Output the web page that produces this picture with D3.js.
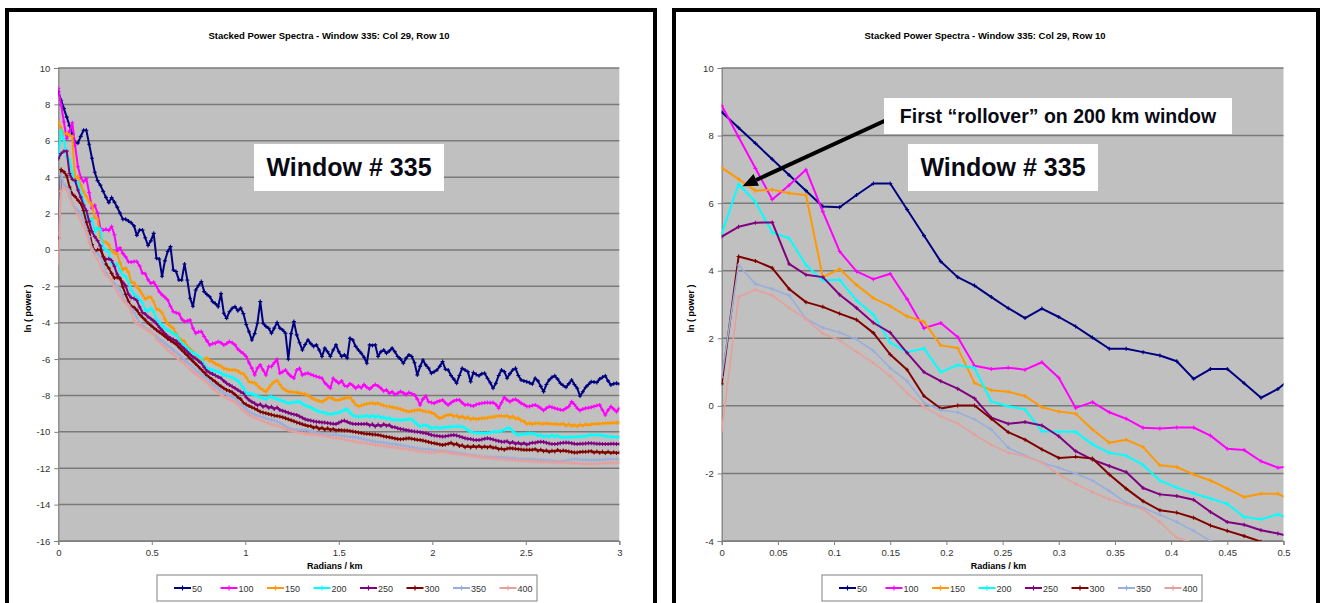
<!DOCTYPE html>
<html>
<head>
<meta charset="utf-8">
<script src="https://cdn.jsdelivr.net/npm/d3@7"></script>
<style>
  body { margin: 0; background: #fff; }
  svg { display: block; }
  text { font-family: "Liberation Sans", Arial, sans-serif; }
</style>
</head>
<body>
<svg id="chart" width="1324" height="603"></svg>
<script>
// Wavenumber spacing of the stacked spectra (radians / km)
const STEP = 0.015;

const seriesNames = ["50", "100", "150", "200", "250", "300", "350", "400"];
const seriesColors = ["#000080", "#FF00FF", "#FF9900", "#00FFFF", "#800080", "#800000", "#99AEDD", "#E6A09C"];

const leftXTicks = [0, 0.5, 1, 1.5, 2, 2.5, 3];
const leftYTicks = [10, 8, 6, 4, 2, 0, -2, -4, -6, -8, -10, -12, -14, -16];
const rightXTicks = [0, 0.05, 0.1, 0.15, 0.2, 0.25, 0.3, 0.35, 0.4, 0.45, 0.5];
const rightYTicks = [10, 8, 6, 4, 2, 0, -2, -4];

const chartTitle = "Stacked Power Spectra - Window 335: Col 29, Row 10";
const xTitle = "Radians / km";
const yTitle = "ln ( power )";
const windowLabel = "Window # 335";
const noteLabel = "First \u201Crollover\u201D on 200 km window";

// ln(power) per window size, one value per wavenumber step
const s50 = [
  8.70, 8.23, 7.77, 7.30, 6.83, 6.37, 5.90, 5.88, 6.24, 6.58,
  6.58, 5.81, 5.04, 4.27, 3.81, 3.56, 3.22, 2.89, 2.60, 2.88,
  2.63, 2.35, 2.02, 1.69, 1.69, 1.59, 1.49, 1.32, 0.80, 1.09,
  1.09, 0.67, 0.24, 0.50, 0.91, -0.46, -0.50, -1.45, -0.60, -0.09,
  0.18, -1.10, -1.19, -1.65, -1.65, -0.77, -1.65, -2.66, -3.10, -2.20,
  -1.95, -1.74, -2.29, -2.45, -2.57, -2.84, -2.95, -3.12, -2.40, -3.48,
  -3.76, -3.40, -3.21, -3.12, -3.34, -3.20, -3.50, -4.10, -4.50, -4.95,
  -4.60, -4.03, -2.84, -4.03, -4.20, -4.31, -4.58, -4.30, -3.99, -4.30,
  -4.40, -4.58, -6.01, -4.60, -3.94, -4.67, -5.10, -5.50, -5.20, -4.95,
  -5.15, -5.31, -5.22, -5.50, -5.86, -5.40, -5.60, -5.86, -5.50, -5.22,
  -5.60, -5.86, -5.77, -5.95, -4.86, -4.95, -5.30, -5.50, -5.68, -5.90,
  -6.23, -5.22, -5.25, -5.22, -5.86, -5.60, -5.50, -5.68, -5.55, -5.40,
  -5.60, -5.86, -6.00, -6.23, -5.95, -5.77, -5.86, -6.20, -6.87, -6.40,
  -6.05, -6.32, -6.50, -6.78, -6.69, -6.60, -6.40, -6.14, -6.56, -6.60,
  -6.90, -7.10, -7.33, -6.90, -6.51, -6.60, -6.69, -7.24, -6.74, -6.85,
  -6.92, -6.80, -6.78, -7.05, -7.30, -7.60, -7.33, -6.90, -6.60, -6.69,
  -7.05, -6.80, -6.60, -6.51, -6.90, -7.15, -7.20, -7.24, -7.30, -7.37,
  -7.05, -7.20, -7.50, -7.79, -7.40, -7.15, -7.00, -6.92, -7.10, -7.33,
  -7.45, -7.55, -7.35, -7.15, -7.40, -7.60, -8.03, -7.80, -7.55, -7.40,
  -7.24, -7.26, -7.29, -7.10, -7.00, -6.92, -7.20, -7.42, -7.35, -7.33,
  -7.37
];
const s100 = [
  8.89, 7.96, 7.03, 6.11, 6.53, 6.99, 5.75, 4.57, 3.98, 3.75,
  3.91, 3.16, 2.30, 2.45, 2.04, 1.19, 1.09, 1.13, 1.07, 1.29,
  0.83, -0.06, 0.11, -0.19, -0.38, -0.65, -0.67, -0.64, -0.64, -0.88,
  -1.27, -1.31, -1.64, -1.83, -1.78, -2.00, -2.30, -2.47, -2.60, -2.75,
  -3.10, -3.39, -3.45, -3.50, -3.80, -3.94, -3.90, -3.85, -4.30, -4.58,
  -4.50, -4.49, -4.76, -5.00, -5.22, -5.15, -5.13, -5.04, -5.10, -5.22,
  -5.15, -5.04, -5.10, -5.22, -5.45, -5.59, -5.70, -5.86, -6.20, -6.50,
  -6.87, -6.50, -6.32, -6.60, -6.87, -6.41, -6.41, -6.20, -6.01, -6.78,
  -6.70, -6.60, -6.80, -6.95, -7.05, -6.60, -6.51, -6.87, -6.80, -6.78,
  -6.85, -6.90, -6.96, -7.00, -7.05, -7.30, -7.45, -7.60, -7.05, -7.20,
  -7.33, -7.20, -7.45, -7.51, -7.35, -7.45, -7.60, -7.48, -7.58, -7.40,
  -7.55, -7.65, -7.51, -7.40, -7.48, -7.60, -7.75, -7.70, -7.88, -7.80,
  -7.95, -7.88, -7.78, -7.86, -7.95, -7.84, -7.90, -7.97, -8.20, -8.52,
  -8.20, -8.03, -8.34, -8.39, -8.43, -8.34, -8.30, -8.25, -8.40, -8.52,
  -8.40, -8.30, -8.25, -8.25, -8.40, -8.52, -8.50, -8.55, -8.58, -8.50,
  -8.45, -8.43, -8.40, -8.39, -8.40, -8.39, -8.50, -8.70, -8.40, -8.10,
  -8.25, -8.34, -8.25, -8.21, -8.30, -8.43, -8.50, -8.60, -8.61, -8.55,
  -8.52, -8.60, -8.70, -8.83, -8.70, -8.61, -8.65, -8.70, -8.75, -8.78,
  -8.80, -8.70, -8.61, -8.34, -8.50, -8.70, -8.83, -8.75, -8.70, -8.68,
  -8.65, -8.60, -8.55, -8.52, -8.80, -9.07, -8.80, -8.61, -8.75, -8.89,
  -8.70
];
const s150 = [
  7.05, 6.71, 6.37, 6.40, 6.29, 6.24, 3.81, 4.05, 3.58, 3.19,
  2.95, 2.65, 2.49, 1.79, 1.71, 0.68, 0.46, 0.42, 0.29, -0.04,
  -0.17, -0.23, -0.70, -1.09, -1.00, -1.22, -1.76, -1.81, -2.03, -2.21,
  -2.45, -2.70, -2.60, -2.60, -2.85, -3.25, -3.30, -3.45, -3.80, -4.05,
  -4.20, -4.31, -4.60, -4.86, -4.95, -5.04, -5.30, -5.45, -5.60, -5.77,
  -5.90, -6.05, -6.00, -5.95, -6.10, -6.14, -6.25, -6.32, -6.40, -6.51,
  -6.55, -6.60, -6.58, -6.60, -6.65, -6.78, -6.80, -7.00, -7.24, -7.29,
  -7.30, -7.45, -7.60, -7.70, -7.79, -7.60, -7.40, -7.25, -7.18, -7.40,
  -7.60, -7.70, -7.79, -7.80, -7.82, -7.84, -7.86, -7.90, -7.92, -8.00,
  -8.10, -8.20, -8.25, -8.30, -8.34, -8.25, -8.15, -8.10, -8.20, -8.25,
  -8.25, -8.20, -8.15, -8.12, -8.10, -8.30, -8.50, -8.61, -8.55, -8.50,
  -8.45, -8.43, -8.43, -8.45, -8.43, -8.50, -8.55, -8.60, -8.61, -8.65,
  -8.68, -8.70, -8.75, -8.80, -8.85, -8.89, -8.85, -8.82, -8.80, -8.80,
  -8.85, -8.88, -8.89, -8.95, -9.00, -9.15, -9.25, -9.20, -9.10, -9.07,
  -9.05, -9.15, -9.10, -9.22, -9.14, -9.25, -9.20, -9.32, -9.25, -9.31,
  -9.28, -9.25, -9.25, -9.22, -9.20, -9.18, -9.15, -9.13, -9.13, -9.15,
  -9.12, -9.22, -9.15, -9.28, -9.25, -9.38, -9.42, -9.57, -9.52, -9.58,
  -9.53, -9.53, -9.55, -9.55, -9.53, -9.55, -9.57, -9.57, -9.58, -9.60,
  -9.55, -9.66, -9.58, -9.68, -9.62, -9.70, -9.60, -9.66, -9.58, -9.63,
  -9.58, -9.57, -9.56, -9.55, -9.54, -9.53, -9.53, -9.52, -9.50, -9.50,
  -9.49
];
const s200 = [
  5.09, 6.56, 6.04, 5.13, 4.96, 4.17, 3.71, 3.73, 3.12, 2.70,
  1.87, 1.59, 1.70, 1.00, 1.21, 1.12, 0.13, -0.01, -0.11, -0.75,
  -0.77, -0.77, -1.14, -1.39, -1.47, -1.75, -2.21, -2.42, -2.59, -2.74,
  -2.90, -3.29, -3.36, -3.21, -3.40, -3.80, -4.00, -4.15, -4.30, -4.40,
  -4.50, -4.60, -4.67, -4.90, -5.13, -5.25, -5.40, -5.55, -5.65, -5.75,
  -5.85, -5.95, -6.30, -6.51, -6.55, -6.60, -6.65, -6.69, -6.78, -6.87,
  -6.90, -6.96, -7.00, -7.10, -7.20, -7.37, -7.60, -7.85, -7.88, -7.92,
  -7.97, -8.05, -8.10, -8.15, -8.21, -8.10, -8.06, -8.15, -8.20, -8.25,
  -8.30, -8.38, -8.43, -8.40, -8.37, -8.34, -8.34, -8.45, -8.55, -8.60,
  -8.65, -8.75, -8.82, -8.89, -8.92, -8.95, -9.00, -9.02, -9.00, -8.96,
  -8.94, -8.88, -8.80, -8.76, -8.95, -9.10, -9.16, -9.16, -9.16, -9.15,
  -9.10, -9.18, -9.10, -9.20, -9.12, -9.22, -9.18, -9.28, -9.24, -9.33,
  -9.33, -9.34, -9.35, -9.35, -9.33, -9.31, -9.31, -9.45, -9.60, -9.71,
  -9.65, -9.62, -9.70, -9.80, -9.78, -9.75, -9.80, -9.78, -9.75, -9.73,
  -9.72, -9.71, -9.71, -9.71, -9.71, -9.80, -9.90, -10.00, -10.04, -10.05,
  -10.06, -10.07, -10.08, -10.06, -10.03, -10.00, -9.99, -9.99, -9.95, -9.88,
  -9.80, -9.80, -9.95, -10.10, -10.17, -10.15, -10.12, -10.10, -10.08, -10.10,
  -10.12, -10.22, -10.18, -10.28, -10.22, -10.27, -10.18, -10.26, -10.20, -10.30,
  -10.30, -10.30, -10.30, -10.29, -10.28, -10.27, -10.26, -10.25, -10.23, -10.20,
  -10.18, -10.17, -10.17, -10.17, -10.20, -10.23, -10.26, -10.27, -10.28, -10.29,
  -10.30
];
const s250 = [
  5.01, 5.30, 5.42, 5.43, 4.20, 3.88, 3.81, 3.29, 2.90, 2.46,
  2.17, 1.57, 1.00, 0.73, 0.51, 0.22, -0.35, -0.53, -0.48, -0.58,
  -0.90, -1.34, -1.59, -1.78, -1.96, -2.43, -2.62, -2.67, -2.78, -3.14,
  -3.44, -3.52, -3.68, -3.78, -3.90, -4.05, -4.25, -4.42, -4.60, -4.75,
  -4.85, -4.92, -5.00, -5.15, -5.31, -5.45, -5.60, -5.75, -5.88, -5.97,
  -6.10, -6.23, -6.45, -6.65, -6.75, -6.82, -6.90, -6.98, -7.05, -7.20,
  -7.33, -7.42, -7.51, -7.60, -7.70, -7.80, -7.88, -8.10, -8.25, -8.35,
  -8.43, -8.55, -8.48, -8.62, -8.55, -8.68, -8.62, -8.74, -8.66, -8.80,
  -8.84, -8.89, -8.95, -9.00, -9.04, -9.07, -9.15, -9.22, -9.31, -9.35,
  -9.38, -9.42, -9.44, -9.46, -9.48, -9.49, -9.52, -9.54, -9.56, -9.57,
  -9.50, -9.42, -9.38, -9.45, -9.52, -9.56, -9.57, -9.57, -9.57, -9.57,
  -9.55, -9.65, -9.58, -9.70, -9.60, -9.68, -9.58, -9.66, -9.62, -9.74,
  -9.75, -9.80, -9.84, -9.87, -9.90, -9.93, -9.96, -9.98, -9.99, -10.02,
  -10.05, -10.08, -10.12, -10.17, -10.20, -10.22, -10.24, -10.26, -10.24, -10.21,
  -10.19, -10.17, -10.20, -10.25, -10.30, -10.35, -10.38, -10.40, -10.43, -10.45,
  -10.45, -10.42, -10.38, -10.35, -10.38, -10.42, -10.47, -10.50, -10.54, -10.54,
  -10.52, -10.62, -10.56, -10.66, -10.60, -10.68, -10.62, -10.70, -10.64, -10.60,
  -10.60, -10.56, -10.54, -10.56, -10.60, -10.64, -10.67, -10.67, -10.65, -10.62,
  -10.60, -10.59, -10.60, -10.63, -10.66, -10.67, -10.66, -10.65, -10.64, -10.63,
  -10.63, -10.64, -10.65, -10.66, -10.67, -10.67, -10.67, -10.66, -10.66, -10.67,
  -10.67
];
const s300 = [
  0.65, 4.42, 4.29, 4.08, 3.46, 3.07, 2.93, 2.73, 2.55, 2.16,
  1.52, 1.07, 0.29, -0.08, 0.01, 0.01, -0.38, -0.78, -1.00, -1.29,
  -1.54, -1.51, -1.56, -2.03, -2.45, -2.82, -3.09, -3.16, -3.31, -3.54,
  -3.70, -3.85, -4.02, -4.15, -4.28, -4.40, -4.52, -4.62, -4.75, -4.88,
  -4.98, -5.08, -5.18, -5.35, -5.50, -5.65, -5.80, -5.97, -6.12, -6.27,
  -6.42, -6.58, -6.74, -6.90, -7.02, -7.14, -7.25, -7.38, -7.50, -7.60,
  -7.70, -7.75, -7.82, -7.95, -8.10, -8.20, -8.40, -8.50, -8.58, -8.65,
  -8.72, -8.80, -8.89, -8.94, -8.98, -9.02, -9.06, -9.10, -9.13, -9.16,
  -9.20, -9.25, -9.31, -9.36, -9.42, -9.48, -9.53, -9.58, -9.63, -9.68,
  -9.68, -9.78, -9.72, -9.84, -9.78, -9.88, -9.80, -9.90, -9.84, -9.92,
  -9.90, -9.91, -9.92, -9.93, -9.95, -9.98, -10.01, -10.04, -10.06, -10.09,
  -10.11, -10.12, -10.14, -10.15, -10.17, -10.20, -10.24, -10.27, -10.30, -10.33,
  -10.36, -10.39, -10.41, -10.39, -10.37, -10.35, -10.38, -10.41, -10.44, -10.45,
  -10.48, -10.52, -10.56, -10.60, -10.63, -10.66, -10.69, -10.72, -10.69, -10.66,
  -10.60, -10.70, -10.66, -10.78, -10.74, -10.84, -10.78, -10.86, -10.78, -10.84,
  -10.78, -10.86, -10.80, -10.86, -10.80, -10.88, -10.86, -10.95, -10.92, -10.98,
  -10.92, -10.90, -10.91, -10.93, -10.95, -10.97, -10.99, -10.99, -10.99, -10.99,
  -10.95, -11.04, -10.98, -11.07, -11.02, -11.10, -11.04, -11.08, -11.00, -11.06,
  -11.03, -11.05, -11.08, -11.11, -11.14, -11.13, -11.11, -11.10, -11.09, -11.08,
  -11.06, -11.14, -11.08, -11.15, -11.10, -11.16, -11.10, -11.16, -11.12, -11.16,
  -11.14
];
const s350 = [
  0.85, 4.17, 3.61, 3.46, 3.27, 2.58, 2.31, 2.17, 1.97, 1.63,
  1.12, 0.73, 0.09, -0.13, -0.19, -0.40, -0.70, -1.24, -1.47, -1.68,
  -1.83, -2.00, -2.21, -2.52, -2.87, -3.02, -3.22, -3.44, -3.70, -4.00,
  -4.15, -4.28, -4.38, -4.50, -4.62, -4.75, -4.88, -5.00, -5.12, -5.25,
  -5.36, -5.50, -5.62, -5.75, -5.90, -6.05, -6.18, -6.30, -6.45, -6.60,
  -6.72, -6.85, -6.97, -7.08, -7.22, -7.38, -7.50, -7.62, -7.75, -7.85,
  -7.93, -8.00, -8.08, -8.15, -8.30, -8.50, -8.62, -8.75, -8.90, -8.98,
  -9.05, -9.12, -9.16, -9.20, -9.25, -9.31, -9.35, -9.38, -9.44, -9.50,
  -9.60, -9.70, -9.80, -9.85, -9.88, -9.90, -9.90, -9.90, -9.90, -9.93,
  -9.96, -10.00, -10.04, -10.08, -10.12, -10.15, -10.17, -10.17, -10.17, -10.17,
  -10.19, -10.22, -10.24, -10.26, -10.28, -10.29, -10.30, -10.33, -10.37, -10.41,
  -10.45, -10.48, -10.51, -10.54, -10.56, -10.58, -10.59, -10.62, -10.65, -10.67,
  -10.69, -10.71, -10.74, -10.76, -10.79, -10.81, -10.84, -10.87, -10.90, -10.92,
  -10.94, -10.96, -10.96, -10.97, -11.00, -11.03, -11.05, -11.06, -11.07, -11.08,
  -11.10, -11.13, -11.16, -11.17, -11.19, -11.22, -11.25, -11.27, -11.29, -11.32,
  -11.34, -11.36, -11.37, -11.38, -11.39, -11.40, -11.40, -11.40, -11.40, -11.41,
  -11.42, -11.44, -11.45, -11.47, -11.49, -11.51, -11.51, -11.51, -11.51, -11.51,
  -11.52, -11.53, -11.54, -11.55, -11.56, -11.57, -11.58, -11.60, -11.62, -11.63,
  -11.61, -11.58, -11.55, -11.52, -11.51, -11.51, -11.52, -11.53, -11.54, -11.55,
  -11.56, -11.56, -11.55, -11.54, -11.53, -11.52, -11.51, -11.51, -11.51, -11.51,
  -11.51
];
const s400 = [
  -0.75, 3.22, 3.44, 3.27, 2.90, 2.57, 2.14, 1.94, 1.60, 1.27,
  0.88, 0.38, -0.03, -0.31, -0.52, -0.85, -1.16, -1.39, -1.49, -1.68,
  -2.03, -2.31, -2.55, -2.77, -2.92, -3.06, -3.44, -3.90, -4.05, -4.15,
  -4.25, -4.35, -4.45, -4.55, -4.65, -4.90, -5.05, -5.20, -5.35, -5.50,
  -5.62, -5.74, -5.88, -6.02, -6.14, -6.26, -6.41, -6.56, -6.70, -6.82,
  -6.94, -7.05, -7.18, -7.30, -7.45, -7.60, -7.72, -7.86, -7.97, -8.06,
  -8.15, -8.22, -8.30, -8.36, -8.50, -8.70, -8.82, -8.95, -9.08, -9.15,
  -9.22, -9.28, -9.35, -9.41, -9.47, -9.53, -9.58, -9.63, -9.68, -9.71,
  -9.78, -9.84, -9.90, -9.95, -9.99, -10.02, -10.04, -10.07, -10.10, -10.12,
  -10.13, -10.14, -10.16, -10.17, -10.20, -10.23, -10.26, -10.29, -10.32, -10.35,
  -10.35, -10.38, -10.42, -10.45, -10.48, -10.51, -10.54, -10.56, -10.59, -10.61,
  -10.63, -10.66, -10.69, -10.72, -10.74, -10.76, -10.77, -10.80, -10.83, -10.85,
  -10.86, -10.88, -10.90, -10.92, -10.95, -10.97, -10.99, -11.02, -11.05, -11.07,
  -11.09, -11.11, -11.13, -11.14, -11.14, -11.12, -11.10, -11.08, -11.10, -11.14,
  -11.18, -11.21, -11.22, -11.24, -11.26, -11.27, -11.29, -11.31, -11.33, -11.35,
  -11.36, -11.38, -11.40, -11.42, -11.44, -11.45, -11.47, -11.49, -11.51, -11.52,
  -11.53, -11.54, -11.55, -11.56, -11.57, -11.58, -11.59, -11.60, -11.61, -11.62,
  -11.63, -11.64, -11.65, -11.66, -11.67, -11.68, -11.69, -11.69, -11.69, -11.69,
  -11.69, -11.70, -11.71, -11.72, -11.72, -11.73, -11.74, -11.75, -11.75, -11.76,
  -11.76, -11.76, -11.75, -11.74, -11.73, -11.72, -11.71, -11.70, -11.69, -11.69,
  -11.69
];

const allSeries = [s50, s100, s150, s200, s250, s300, s350, s400];
const lineWidths = [2, 2, 2, 2, 2, 2, 1.6, 1.6];

const svg = d3.select("#chart");
svg.append("rect").attr("width", 1324).attr("height", 603).attr("fill", "#fff");
const defs = svg.append("defs");

const fmt = d => String(+d.toFixed(2));

function drawPanel(cfg) {
  const g = svg.append("g");
  const x = d3.scaleLinear().domain(cfg.xDomain).range([cfg.left, cfg.right]);
  const y = d3.scaleLinear().domain(cfg.yDomain).range([cfg.bottom, cfg.top]);

  // panel frame
  g.append("rect")
    .attr("x", cfg.frame[0]).attr("y", cfg.frame[1])
    .attr("width", cfg.frame[2]).attr("height", cfg.frame[3])
    .attr("fill", "#fff").attr("stroke", "#000").attr("stroke-width", 4);

  // title
  g.append("text")
    .attr("x", cfg.titleX).attr("y", 39)
    .attr("text-anchor", "middle").attr("font-size", 9.5).attr("font-weight", "bold")
    .text(chartTitle);

  // plot area
  g.append("rect")
    .attr("x", cfg.left).attr("y", cfg.top)
    .attr("width", cfg.right - cfg.left).attr("height", cfg.bottom - cfg.top)
    .attr("fill", "#C0C0C0");

  // horizontal gridlines
  g.append("g").selectAll("line").data(cfg.yTicks).join("line")
    .attr("x1", cfg.left).attr("x2", cfg.right)
    .attr("y1", d => y(d)).attr("y2", d => y(d))
    .attr("stroke", "#7A7A7A").attr("stroke-width", 1.5);

  // axes
  const yAxis = g.append("g").attr("transform", `translate(${cfg.left},0)`)
    .call(d3.axisLeft(y).tickValues(cfg.yTicks).tickSize(4).tickPadding(4).tickFormat(fmt));
  const xAxis = g.append("g").attr("transform", `translate(0,${cfg.bottom})`)
    .call(d3.axisBottom(x).tickValues(cfg.xTicks).tickSize(4).tickPadding(4).tickFormat(fmt));
  [yAxis, xAxis].forEach(a => {
    a.select(".domain").attr("stroke", "#808080").attr("stroke-width", 1.2);
    a.selectAll(".tick line").attr("stroke", "#808080");
    a.selectAll(".tick text").attr("fill", "#333").attr("font-size", 9.5)
      .attr("font-family", "Liberation Sans, Arial, sans-serif");
  });

  // axis titles
  g.append("text")
    .attr("x", (cfg.left + cfg.right) / 2 - 4).attr("y", 569)
    .attr("text-anchor", "middle").attr("font-size", 9).attr("font-weight", "bold")
    .text(xTitle);
  g.append("text")
    .attr("transform", `translate(${cfg.yTitleX},${(cfg.top + cfg.bottom) / 2 + 4}) rotate(-90)`)
    .attr("text-anchor", "middle").attr("font-size", 9).attr("font-weight", "bold")
    .text(yTitle);

  // series, clipped to the plot area
  const clipId = "clip-" + cfg.id;
  defs.append("clipPath").attr("id", clipId).append("rect")
    .attr("x", cfg.left).attr("y", cfg.top)
    .attr("width", cfg.right - cfg.left).attr("height", cfg.bottom - cfg.top);
  const plot = g.append("g").attr("clip-path", `url(#${clipId})`);
  const line = d3.line().x(d => x(d[0])).y(d => y(d[1]));

  allSeries.forEach((vals, i) => {
    const pts = vals.map((v, k) => [k * STEP, v])
      .filter(d => d[0] <= cfg.xDomain[1] + 2 * STEP);
    const sg = plot.append("g");
    sg.append("path").attr("d", line(pts))
      .attr("fill", "none").attr("stroke", seriesColors[i])
      .attr("stroke-width", lineWidths[i]).attr("stroke-linejoin", "round");
    sg.selectAll("path.m").data(pts).join("path").attr("class", "m")
      .attr("transform", d => `translate(${x(d[0])},${y(d[1])})`)
      .attr("d", "M-2,0H2M0,-2V2")
      .attr("stroke", seriesColors[i]).attr("stroke-width", 1.1);
  });

  // legend
  const lg = g.append("g");
  lg.append("rect")
    .attr("x", cfg.legendX).attr("y", 575).attr("width", 380).attr("height", 26)
    .attr("fill", "#fff").attr("stroke", "#808080").attr("stroke-width", 1);
  seriesNames.forEach((name, i) => {
    const lx = cfg.legendX + 17 + i * 46.5;
    lg.append("line").attr("x1", lx).attr("x2", lx + 17).attr("y1", 588).attr("y2", 588)
      .attr("stroke", seriesColors[i]).attr("stroke-width", 2);
    lg.append("path").attr("transform", `translate(${lx + 8.5},588)`)
      .attr("d", "M-2,0H2M0,-2.5V2.5").attr("stroke", seriesColors[i]).attr("stroke-width", 1.2);
    lg.append("text").attr("x", lx + 18).attr("y", 591.5)
      .attr("font-size", 9).attr("fill", "#333").text(name);
  });

  // annotation box
  g.append("rect")
    .attr("x", cfg.boxX).attr("y", 144).attr("width", 190).attr("height", 47)
    .attr("fill", "#fff");
  g.append("text")
    .attr("x", cfg.boxX + 95).attr("y", 176)
    .attr("text-anchor", "middle").attr("font-size", 25).attr("font-weight", "bold")
    .attr("fill", "#0a0a14").text(windowLabel);

  return { x, y };
}

drawPanel({
  id: "full", frame: [7, 10, 648, 620],
  left: 58.3, right: 619.3, top: 68, bottom: 541,
  xDomain: [0, 3], yDomain: [-16, 10],
  xTicks: leftXTicks, yTicks: leftYTicks,
  titleX: 329, yTitleX: 31, legendX: 157, boxX: 254
});

const rightPanel = drawPanel({
  id: "zoom", frame: [674, 10, 644, 620],
  left: 721.7, right: 1283.5, top: 68, bottom: 541,
  xDomain: [0, 0.5], yDomain: [-4, 10],
  xTicks: rightXTicks, yTicks: rightYTicks,
  titleX: 985, yTitleX: 694, legendX: 822, boxX: 908
});

// arrow to the first peak of the 200 km spectrum
(function () {
  const tip = [rightPanel.x(STEP) + 4, rightPanel.y(s200[1]) + 2];
  const start = [893, 117];
  const dx = tip[0] - start[0], dy = tip[1] - start[1];
  const len = Math.hypot(dx, dy);
  const ux = dx / len, uy = dy / len, nx = -uy, ny = ux;
  const headL = 15, headW = 6.5;
  const base = [tip[0] - headL * ux, tip[1] - headL * uy];
  svg.append("line")
    .attr("x1", start[0]).attr("y1", start[1]).attr("x2", base[0]).attr("y2", base[1])
    .attr("stroke", "#000").attr("stroke-width", 4);
  svg.append("path")
    .attr("d", `M${tip[0]},${tip[1]}L${base[0] + headW * nx},${base[1] + headW * ny}L${base[0] - headW * nx},${base[1] - headW * ny}Z`)
    .attr("fill", "#000");
  svg.append("rect").attr("x", 884).attr("y", 98).attr("width", 348).attr("height", 36).attr("fill", "#fff");
  svg.append("text").attr("x", 1058).attr("y", 123)
    .attr("text-anchor", "middle").attr("font-size", 19.5).attr("font-weight", "bold")
    .attr("fill", "#0a0a14").text(noteLabel);
})();
</script>
</body>
</html>
